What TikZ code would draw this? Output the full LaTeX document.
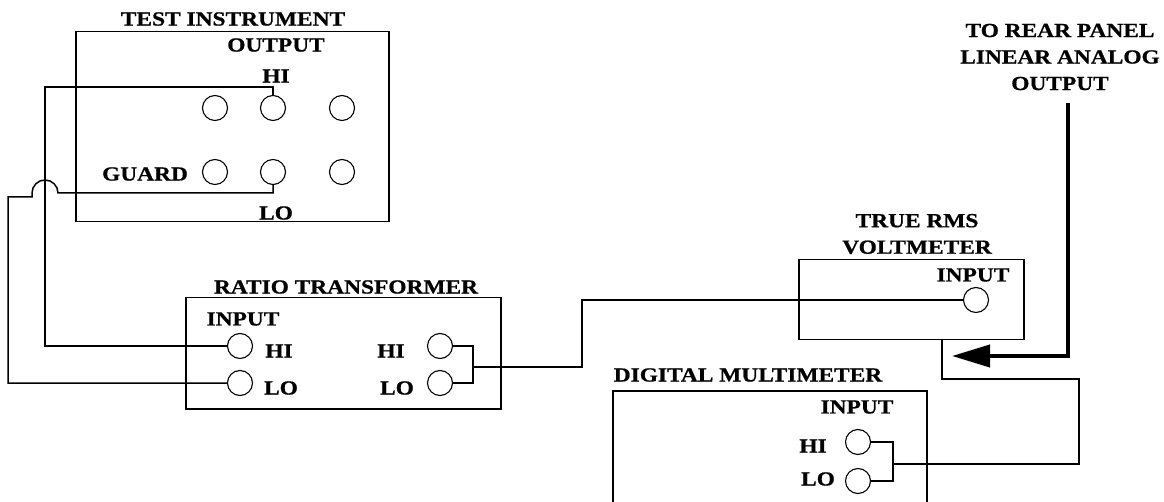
\documentclass[tikz,border=0pt]{standalone}
\usepackage{fontspec}
\setmainfont{Liberation Serif}[FakeStretch=1.17,BoldFeatures={FakeBold=0.8}]
\usetikzlibrary{arrows.meta}
\begin{document}
\begin{tikzpicture}[x=1pt,y=-1pt,line width=1.5pt,
  lbl/.style={font=\bfseries\fontsize{20}{26.5}\selectfont,inner sep=0pt,anchor=center},
  term/.style={circle,draw,line width=1.1pt,minimum size=25pt,inner sep=0pt},
  box/.style={draw,line width=1.5pt,inner sep=0pt,anchor=north west},
  wire/.style={line width=1.5pt},
  bigarrow/.style={line width=4pt,-{Triangle[length=38pt,width=22pt]}}]
\useasboundingbox (0,0) rectangle (1164,502);
\clip (0,0) rectangle (1164,502);
% boxes
\node[box,minimum width=313pt,minimum height=190pt] (ti) at (75,31) {};
\node[box,minimum width=315pt,minimum height=111pt] (rt) at (185,297) {};
\node[box,minimum width=225pt,minimum height=80pt] (vm) at (798,259) {};
\node[box,minimum width=314pt,minimum height=150pt] (dm) at (612,390) {};
% labels
\node[lbl] (tiT) at (233,19) {TEST INSTRUMENT};
\node[lbl] (tiO) at (276,45) {OUTPUT};
\node[lbl] (tiH) at (276,76) {HI};
\node[lbl] (tiG) at (145,174) {GUARD};
\node[lbl] (tiL) at (276,213) {LO};
\node[lbl] (rtT) at (346,287) {RATIO TRANSFORMER};
\node[lbl] (rtI) at (243,319) {INPUT};
\node[lbl] (rtH1) at (279,351) {HI};
\node[lbl] (rtL1) at (281,388) {LO};
\node[lbl] (rtH2) at (391,351) {HI};
\node[lbl] (rtL2) at (397,388) {LO};
\node[lbl,align=center] (vmT) at (917,234) {TRUE RMS\\VOLTMETER};
\node[lbl] (vmI) at (973,275) {INPUT};
\node[lbl,align=center] (rear) at (1060,57) {TO REAR PANEL\\LINEAR ANALOG\\OUTPUT};
\node[lbl] (dmT) at (748,375) {DIGITAL MULTIMETER};
\node[lbl] (dmI) at (857,407) {INPUT};
\node[lbl] (dmH) at (813,446) {HI};
\node[lbl] (dmL) at (818,479) {LO};
% terminals
\node[term] (t1) at (215,108) {};
\node[term] (t2) at (273,108) {};
\node[term] (t3) at (342,108) {};
\node[term] (t4) at (215,172) {};
\node[term] (t5) at (273,172) {};
\node[term] (t6) at (342,172) {};
\node[term] (inHI) at (240,346) {};
\node[term] (inLO) at (240,383) {};
\node[term] (outHI) at (440,346) {};
\node[term] (outLO) at (440,383) {};
\node[term] (vin) at (976,300) {};
\node[term] (dHI) at (858,442) {};
\node[term] (dLO) at (858,481) {};
% wire coordinates
\coordinate (hiTop) at (45,87);
\coordinate (loA) at (58,193);
\coordinate (loC) at (8,197);
\coordinate (rj) at (473,367);
\coordinate (rk) at (582,367);
\coordinate (vb) at (942,339);
\coordinate (vc) at (1079,379);
\coordinate (dj) at (893,464);
\coordinate (rp) at (1068,103);
\coordinate (rc) at (1068,356);
\coordinate (tip) at (952,356);
% wires
\draw[wire] (t2.north) |- (hiTop) |- (inHI.west);
\draw[wire] (t5.south) |- (loA) arc[start angle=0,end angle=180,radius=13pt] -- ++(0,4) -- (loC) |- (inLO.west);
\draw[wire] (outHI.east) -| (rj);
\draw[wire] (outLO.east) -| (rj);
\draw[wire] (rj) -- (rk) |- (vin.west);
\draw[wire] (vb) |- (vc) |- (dj);
\draw[wire] (dHI.east) -| (dj);
\draw[wire] (dLO.east) -| (dj);
\draw[bigarrow] (rp) -- (rc) -- (tip);
\end{tikzpicture}
\end{document}
